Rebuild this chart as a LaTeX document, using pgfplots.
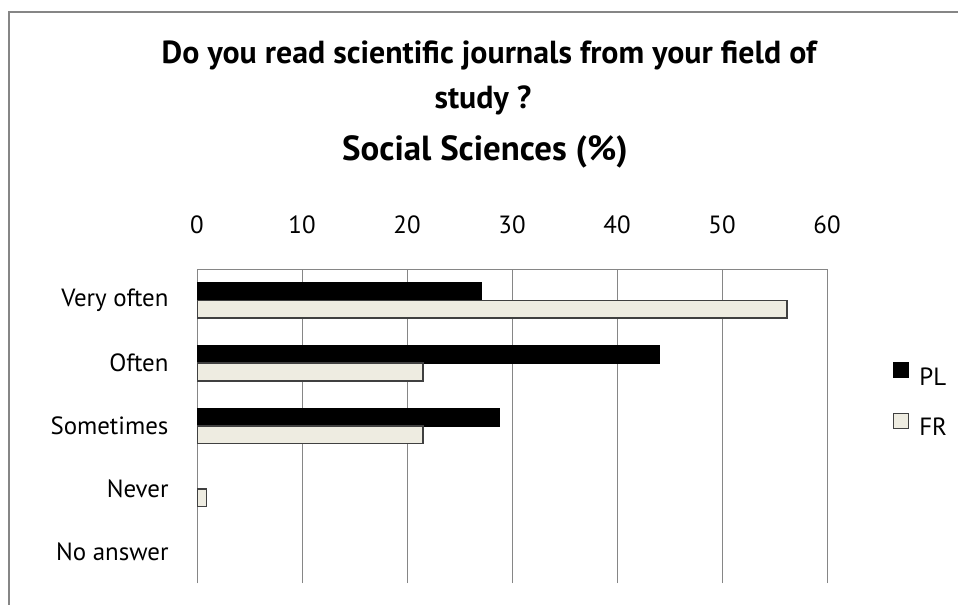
\documentclass[border=0pt]{standalone}
\usepackage{pgfplots}
\pgfplotsset{compat=1.18}
\usepackage{fontspec}
\setmainfont{PT Sans}
\definecolor{frfill}{RGB}{238,236,225}
\definecolor{linegray}{RGB}{134,134,134}
\definecolor{bardraw}{RGB}{64,64,64}
\begin{document}
\begin{tikzpicture}
\useasboundingbox (0,0) rectangle (958bp,605bp);
\draw[linegray, line width=2bp] (9bp,0) -- (9bp,593bp) -- (958bp,593bp);
\node[font=\fontsize{32}{36}\selectfont\bfseries] at (489bp,550bp) {Do you read scientific journals from your field of};
\node[font=\fontsize{32}{36}\selectfont\bfseries] at (483bp,505bp) {study ?};
\node[font=\fontsize{35}{40}\selectfont\bfseries] at (485bp,453bp) {Social Sciences (\%)};
\begin{axis}[
    at={(197bp,22bp)}, anchor=south west,
    scale only axis, width=630bp, height=314bp,
    xbar, bar width=0.28,
    xmin=0, xmax=60,
    ymin=-0.5, ymax=4.5,
    axis x line=top, axis y line=left,
    axis line style={linegray, line width=1bp, -},
    xtick={0,10,20,30,40,50,60},
    ytick={0,1,2,3,4},
    yticklabels={No answer, Never, Sometimes, Often, Very often},
    xmajorgrids=true,
    grid style={linegray, line width=1bp},
    major tick length=0pt,
    /pgf/number format/assume math mode=true,
    tick label style={font=\fontsize{25}{28}\selectfont},
    xticklabel shift=32bp,
    yticklabel shift=25bp,
    legend style={at={(1.105,0.584)}, anchor=west, draw=none, fill=none,
        font=\fontsize{25}{28}\selectfont, row sep=26bp, inner sep=0pt,
        nodes={inner sep=0pt}, column sep=10bp},
    legend cell align=left,
    legend image code/.code={\draw[#1, line width=1bp] (0bp,-0.5bp) rectangle (15bp,14.5bp);},
]
\addplot[fill=black, draw=black, line width=1.5bp, bar shift=0.14]
    coordinates {(27.1,4) (44.0,3) (28.8,2)};
\addplot[fill=frfill, draw=bardraw, line width=1.5bp, bar shift=-0.14]
    coordinates {(56.2,4) (21.5,3) (21.5,2) (0.9,1)};
\legend{PL, FR}
\end{axis}
\end{tikzpicture}
\end{document}
